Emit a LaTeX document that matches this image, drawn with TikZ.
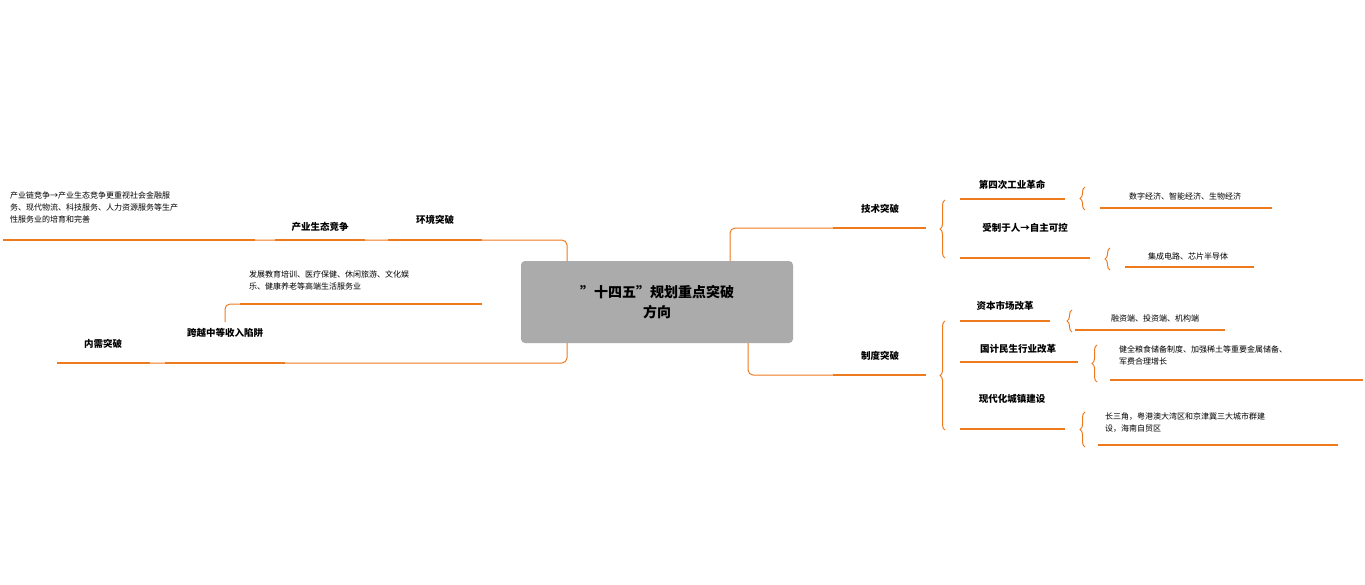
\documentclass[tikz,border=0pt]{standalone}
\usepackage{fontspec}
\setmainfont{Noto Sans CJK SC}
\usetikzlibrary{decorations.pathreplacing}
\definecolor{branch}{HTML}{EE7A1E}
\definecolor{hub}{HTML}{ABABAB}
\tikzstyle{topic}=[inner sep=0pt, font=\fontsize{9.5}{11}\selectfont\bfseries]
\tikzstyle{leaf}=[inner sep=0pt, font=\fontsize{8}{12}\selectfont, align=left]
\tikzstyle{uline}=[draw=branch, line width=2.4pt]
\tikzstyle{link}=[draw=branch, line width=1pt, rounded corners=5pt]
\tikzstyle{bra}=[draw=branch, line width=1pt, decorate, decoration={brace, amplitude=5pt}]

\begin{document}
\begin{tikzpicture}[x=1pt, y=-1pt]
\useasboundingbox (0,0) rectangle (1365,584);
\node[fill=hub, rounded corners=4pt, minimum width=272pt, minimum height=82pt, align=center,
  font=\fontsize{14}{20}\selectfont\bfseries] (C) at (657,302) {"十四五"规划重点突破\\方向};
% left side
\node[topic] (L1) at (435,220) {环境突破};
\node[topic] (L11) at (320,227) {产业生态竞争};
\node[leaf, anchor=north west] (L111) at (10,192) {产业链竞争→产业生态竞争更重视社会金融服\\务、现代物流、科技服务、人力资源服务等生产\\性服务业的培育和完善};
\node[topic] (L2) at (103,344) {内需突破};
\node[topic] (L21) at (225,333) {跨越中等收入陷阱};
\node[leaf, anchor=north west] (L211) at (249,271) {发展教育培训、医疗保健、休闲旅游、文化娱\\乐、健康养老等高端生活服务业};
\draw[link] (567,261) |- (482,240) -- (3,240);
\draw[uline] (388,240) -- (482,240);
\draw[uline] (275,240) -- (365,240);
\draw[uline] (3,240) -- (255,240);
\draw[link] (567,343) |- (285,363) -- (57,363);
\draw[uline] (165,363) -- (285,363);
\draw[uline] (57,363) -- (150,363);
\draw[link] (225,322) |- (240,304);
\draw[uline] (240,304) -- (482,304);
% right side
\node[topic] (R1) at (880,209) {技术突破};
\node[topic] (R11) at (1012,185) {第四次工业革命};
\node[leaf] (R111) at (1185,196) {数字经济、智能经济、生物经济};
\node[topic] (R12) at (1025,228) {受制于人→自主可控};
\node[leaf] (R121) at (1188,256) {集成电路、芯片半导体};
\draw[link] (730,261) |- (833,228);
\draw[uline] (833,228) -- (926,228);
\draw[bra] (945,258) -- (945,200);
\draw[uline] (960,199) -- (1065,199);
\draw[bra] (1085,210) -- (1085,187);
\draw[uline] (1100,208) -- (1272,208);
\draw[uline] (960,258) -- (1090,258);
\draw[bra] (1110,270) -- (1110,248);
\draw[uline] (1125,267) -- (1254,267);
\node[topic] (R2) at (880,356) {制度突破};
\node[topic] (R21) at (1005,306) {资本市场改革};
\node[leaf] (R211) at (1155,318) {融资端、投资端、机构端};
\node[topic] (R22) at (1018,349) {国计民生行业改革};
\node[leaf, anchor=north west] (R221) at (1119,345) {健全粮食储备制度、加强稀土等重要金属储备、\\军费合理增长};
\node[topic] (R23) at (1012,399) {现代化城镇建设};
\node[leaf, anchor=north west] (R231) at (1105,412) {长三角，粤港澳大湾区和京津冀三大城市群建\\设，海南自贸区};
\draw[link] (748,343) |- (833,375);
\draw[uline] (833,375) -- (926,375);
\draw[bra] (945,430) -- (945,321);
\draw[uline] (960,321) -- (1050,321);
\draw[bra] (1072,332) -- (1072,310);
\draw[uline] (1075,330) -- (1225,330);
\draw[uline] (960,362) -- (1078,362);
\draw[bra] (1097,382) -- (1097,345);
\draw[uline] (1110,380) -- (1363,380);
\draw[uline] (960,429) -- (1065,429);
\draw[bra] (1085,447) -- (1085,412);
\draw[uline] (1098,445) -- (1338,445);
\end{tikzpicture}
\end{document}
